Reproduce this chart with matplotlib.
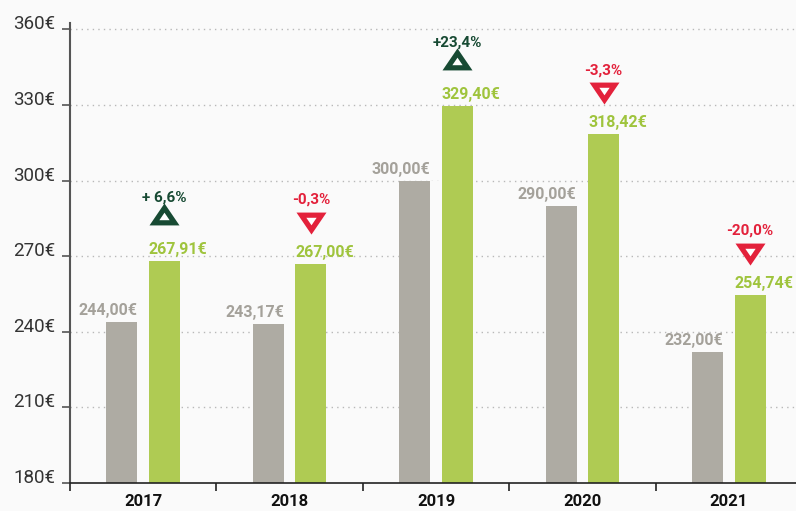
import matplotlib
matplotlib.use("Agg")
import matplotlib.pyplot as plt
from matplotlib.transforms import offset_copy
import numpy as np

years = ["2017", "2018", "2019", "2020", "2021"]
gray_values = [244.00, 243.17, 300.00, 290.00, 232.00]
green_values = [267.91, 267.00, 329.40, 318.42, 254.74]
pct_labels = ["+ 6,6%", "-0,3%", "+23,4%", "-3,3%", "-20,0%"]
pct_up = [True, False, True, False, False]
yticks = [180, 210, 240, 270, 300, 330, 360]

def fmt(v):
    return f"{v:.2f}".replace(".", ",") + "€"

BG = "#fafafa"
GRAY = "#aeaba3"
GRAY_TXT = "#a4a19a"
GREEN = "#afcb53"
GREEN_TXT = "#9fc43d"
UP = "#174a33"
DOWN = "#e3213b"

plt.rcParams['font.family'] = ['Roboto', 'DejaVu Sans']

fig = plt.figure(figsize=(7.96, 5.11), dpi=100, facecolor=BG)
ax = fig.add_axes([70/796, 1-483/511, 732/796, 460/511])
ax.set_facecolor(BG)

x = np.arange(len(years))
w = 0.212
off = 0.145

ax.set_xlim(-0.5, len(years) - 0.5)
ax.set_ylim(180, 362.5)

# grid
for t in yticks[1:]:
    ax.axhline(t, color="#b8b8b8", lw=1.0, ls=(0, (1, 3)), zorder=1)

# mask gap between bars
mins = np.minimum(gray_values, green_values)
ax.bar(x, mins - 180, bottom=180, width=2*off - w + 0.02, color=BG, zorder=1.5, lw=0)

ax.bar(x - off, np.array(gray_values) - 180, bottom=180, width=w, color=GRAY, zorder=2, lw=0)
ax.bar(x + off, np.array(green_values) - 180, bottom=180, width=w, color=GREEN, zorder=2, lw=0)

t_lab = offset_copy(ax.transData, fig=fig, x=0, y=4, units='dots')
t_tri = offset_copy(ax.transData, fig=fig, x=0, y=44, units='dots')
t_pct = offset_copy(ax.transData, fig=fig, x=0, y=64, units='dots')

r = 7.93
up_verts = [(-15, -r), (15, -r), (0, 22 - r), (-15, -r)]
down_verts = [(vx, -vy) for vx, vy in up_verts]

for i in range(len(years)):
    ax.text(x[i] - off + w/2, gray_values[i], fmt(gray_values[i]), transform=t_lab,
            ha='right', va='bottom', color=GRAY_TXT, fontsize=11.5, fontweight='bold', zorder=5)
    ax.text(x[i] + off - w/2, green_values[i], fmt(green_values[i]), transform=t_lab,
            ha='left', va='bottom', color=GREEN_TXT, fontsize=11.5, fontweight='bold', zorder=5)
    col = UP if pct_up[i] else DOWN
    verts = up_verts if pct_up[i] else down_verts
    ax.plot([x[i] + off], [green_values[i]], transform=t_tri, marker=verts, ms=21.6,
            color=col, mec='none', ls='none', zorder=5, clip_on=False)
    ax.plot([x[i] + off], [green_values[i]], transform=t_tri, marker=verts, ms=7.4,
            color='white', mec='none', ls='none', zorder=6, clip_on=False)
    ax.text(x[i] + off, green_values[i], pct_labels[i], transform=t_pct,
            ha='center', va='center', color=col, fontsize=11, fontweight='bold', zorder=5)

# axes styling
for s in ['top', 'right']:
    ax.spines[s].set_visible(False)
ax.spines['left'].set_color('#555555')
ax.spines['left'].set_linewidth(1.5)
ax.spines['bottom'].set_color('#222222')
ax.spines['bottom'].set_linewidth(1.2)

ax.set_yticks(yticks)
ax.set_yticklabels([f"{t}€" for t in yticks])
ax.tick_params(axis='y', length=5.5, width=1.2, color='#555555', pad=5, labelsize=13.5,
               labelcolor='#333333')
for lab in ax.get_yticklabels():
    lab.set_verticalalignment('baseline')

ax.set_xticks(np.arange(-0.5, len(years), 1.0))
ax.set_xticklabels([])
ax.set_xticks(x, minor=True)
ax.set_xticklabels(years, minor=True, fontsize=12, fontweight='bold', color='#111111')
ax.tick_params(axis='x', which='major', length=6, width=1.2, color='#222222')
ax.tick_params(axis='x', which='minor', length=0, pad=8)

fig.savefig("out.png", dpi=100, facecolor=BG)
